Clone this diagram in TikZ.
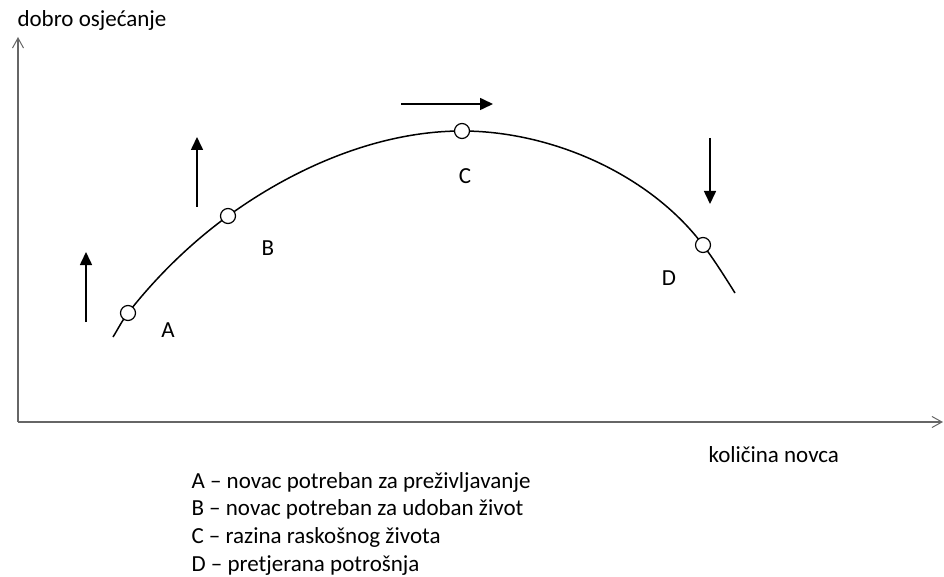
\documentclass[tikz,border=0pt]{standalone}
\usepackage{fontspec}
\setmainfont{Carlito}
\usetikzlibrary{arrows.meta,positioning}

\tikzset{
  axis/.style={draw=black!60, line width=1.5pt, -{Straight Barb[length=10pt,width=11pt,line width=1pt]}},
  dot/.style={circle, draw, fill=white, line width=1.2pt, inner sep=0pt, minimum size=15pt},
  move/.style={line width=1.6pt, -{Triangle[length=13pt,width=12pt]}},
  curve/.style={line width=1.5pt},
  txt/.style={font=\fontsize{23}{27}\selectfont}
}

\begin{document}
\begin{tikzpicture}[x=1pt,y=-1pt]
  \useasboundingbox (0,0) rectangle (944,577);
  % axes
  \coordinate (O) at (18,422);
  \coordinate (ytop) at (18,37);
  \coordinate (xend) at (943,422);
  \draw[axis] (O) -- (ytop);
  \draw[axis] (O) -- (xend);
  \node[txt, anchor=base west] (ylab) at (14,27) {dobro osjećanje};
  \node[txt, anchor=base west] (xlab) at (705,462) {količina novca};
  % the curve
  \coordinate (pS) at (113,337);
  \coordinate (pA) at (128,313);
  \coordinate (pB) at (228,216);
  \coordinate (pC) at (462,131);
  \coordinate (pD) at (703,245);
  \coordinate (pE) at (735,293);
  \draw[curve] (pS) .. controls (118,329) and (122.2,320.4) .. (pA)
    .. controls (156.3,276.8) and (190.8,243) .. (pB)
    .. controls (295.1,167.2) and (379,131) .. (pC)
    .. controls (551,131) and (649.4,173.9) .. (pD)
    .. controls (714.4,260.2) and (724.9,276.9) .. (pE);
  \node[dot] (A) at (pA) {};
  \node[dot] (B) at (pB) {};
  \node[dot] (C) at (pC) {};
  \node[dot] (D) at (pD) {};
  \node[txt] (labA) at (168,330) {A};
  \node[txt] (labB) at (268,248) {B};
  \node[txt] (labC) at (465,176) {C};
  \node[txt] (labD) at (669,278) {D};
  % arrows
  \coordinate (a1) at (86,322);
  \coordinate (a2) at (86,252);
  \draw[move] (a1) -- (a2);
  \coordinate (b1) at (197,207);
  \coordinate (b2) at (197,137);
  \draw[move] (b1) -- (b2);
  \coordinate (c1) at (401,104);
  \coordinate (c2) at (493,104);
  \draw[move] (c1) -- (c2);
  \coordinate (d1) at (710,138);
  \coordinate (d2) at (710,204);
  \draw[move] (d1) -- (d2);
  % legend
  \node[txt, anchor=base west] (legA) at (188,488) {A – novac potreban za preživljavanje};
  \node[txt, anchor=base west] (legB) at (188,515) {B – novac potreban za udoban život};
  \node[txt, anchor=base west] (legC) at (188,543) {C – razina raskošnog života};
  \node[txt, anchor=base west] (legD) at (188,571) {D – pretjerana potrošnja};
\end{tikzpicture}
\end{document}
